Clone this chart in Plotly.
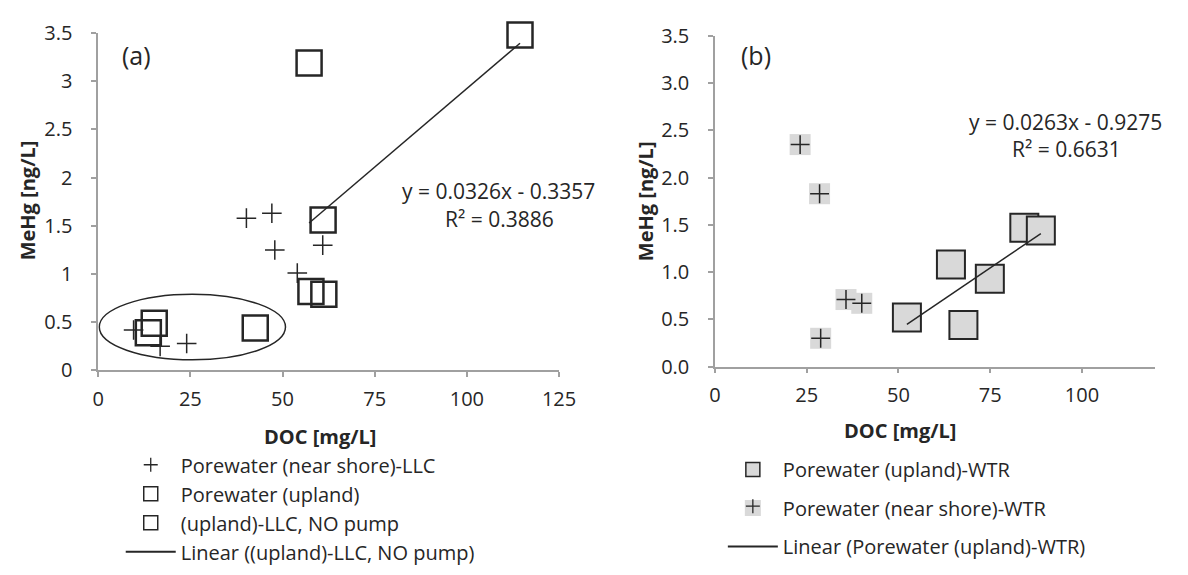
import plotly.graph_objects as go

# ---------------- Panel (a) data ----------------
a_nearshore_doc = [40.2, 47.1, 47.9, 54.0, 60.9, 9.6, 16.8, 24.0]
a_nearshore_mehg = [1.58, 1.63, 1.25, 1.01, 1.30, 0.42, 0.25, 0.28]

a_upland_doc = [15.2, 13.6, 42.6]
a_upland_mehg = [0.49, 0.39, 0.44]

a_nopump_doc = [57.2, 61.0, 114.4, 57.7, 61.2]
a_nopump_mehg = [3.19, 1.56, 3.48, 0.82, 0.79]

a_slope, a_intercept = 0.0326, -0.3357
a_r2 = 0.3886

# ---------------- Panel (b) data ----------------
b_upland_doc = [52.3, 64.3, 74.9, 67.7, 84.3, 88.8]
b_upland_mehg = [0.52, 1.08, 0.93, 0.44, 1.47, 1.44]

b_nearshore_doc = [23.2, 28.5, 35.7, 40.0, 28.8]
b_nearshore_mehg = [2.35, 1.83, 0.71, 0.67, 0.30]

b_slope, b_intercept = 0.0263, -0.9275
b_r2 = 0.6631

a_xticks = [0, 25, 50, 75, 100, 125]
b_xticks = [0, 25, 50, 75, 100]
y_ticks = [0, 0.5, 1, 1.5, 2, 2.5, 3, 3.5]

INK = "#262626"
AXIS = "#a0a0a0"
FILL = "#d9d9d9"
CLEAR = "rgba(0,0,0,0)"
FONT = "Open Sans"

W, H = 1188, 575


def px_x(p):
    return p / W


def px_y(p):
    return 1 - p / H


def trend(xs, m, c):
    lo, hi = min(xs), max(xs)
    return [lo, hi], [m * lo + c, m * hi + c]


def key(name, legend, marker=None, line=None, group=None):
    """Legend-only entry (no data) so the key can be drawn at its own size."""
    kw = dict(x=[None], y=[None], name=name, legend=legend, showlegend=True,
              hoverinfo="skip")
    if group:
        kw["legendgroup"] = group
    if marker is not None:
        kw.update(mode="markers", marker=marker)
    else:
        kw.update(mode="lines", line=line)
    return go.Scatter(**kw)


fig = go.Figure()

# --- panel (a) marks ---
fig.add_trace(go.Scatter(
    x=a_nearshore_doc, y=a_nearshore_mehg, mode="markers", showlegend=False,
    xaxis="x", yaxis="y",
    marker=dict(symbol="cross-thin", size=14, line=dict(color=INK, width=1.5)),
    cliponaxis=False))
fig.add_trace(go.Scatter(
    x=a_upland_doc, y=a_upland_mehg, mode="markers", showlegend=False,
    xaxis="x", yaxis="y",
    marker=dict(symbol="square", size=25, color=CLEAR,
                line=dict(color=INK, width=2.5)),
    cliponaxis=False))
fig.add_trace(go.Scatter(
    x=a_nopump_doc, y=a_nopump_mehg, mode="markers", showlegend=False,
    xaxis="x", yaxis="y",
    marker=dict(symbol="square", size=25, color=CLEAR,
                line=dict(color=INK, width=2.5)),
    cliponaxis=False))
tx, ty = trend(a_nopump_doc, a_slope, a_intercept)
fig.add_trace(go.Scatter(
    x=tx, y=ty, mode="lines", showlegend=False, xaxis="x", yaxis="y",
    line=dict(color=INK, width=1.5), cliponaxis=False))

# --- panel (b) marks ---
fig.add_trace(go.Scatter(
    x=b_nearshore_doc, y=b_nearshore_mehg, mode="markers", showlegend=False,
    xaxis="x2", yaxis="y2",
    marker=dict(symbol="square", size=21, color=FILL, line=dict(width=0)),
    cliponaxis=False))
fig.add_trace(go.Scatter(
    x=b_nearshore_doc, y=b_nearshore_mehg, mode="markers", showlegend=False,
    xaxis="x2", yaxis="y2",
    marker=dict(symbol="cross-thin", size=13.5, line=dict(color=INK, width=1.5)),
    cliponaxis=False))
fig.add_trace(go.Scatter(
    x=b_upland_doc, y=b_upland_mehg, mode="markers", showlegend=False,
    xaxis="x2", yaxis="y2",
    marker=dict(symbol="square", size=28, color=FILL,
                line=dict(color=INK, width=2)),
    cliponaxis=False))
tx, ty = trend(b_upland_doc, b_slope, b_intercept)
fig.add_trace(go.Scatter(
    x=tx, y=ty, mode="lines", showlegend=False, xaxis="x2", yaxis="y2",
    line=dict(color=INK, width=1.5), cliponaxis=False))

# --- legend keys ---
fig.add_trace(key("Porewater (near shore)-LLC", "legend",
                  marker=dict(symbol="cross-thin", size=10,
                              line=dict(color=INK, width=1.3))))
fig.add_trace(key("Porewater (upland)", "legend",
                  marker=dict(symbol="square", size=14, color=CLEAR,
                              line=dict(color=INK, width=1.5))))
fig.add_trace(key("(upland)-LLC, NO pump", "legend",
                  marker=dict(symbol="square", size=14, color=CLEAR,
                              line=dict(color=INK, width=1.5))))
fig.add_trace(key("Linear ((upland)-LLC, NO pump)", "legend",
                  line=dict(color=INK, width=1.8)))

fig.add_trace(key("Porewater (upland)-WTR", "legend2", group="g1",
                  marker=dict(symbol="square", size=14, color=FILL,
                              line=dict(color=INK, width=1.5))))
fig.add_trace(key("Porewater (near shore)-WTR", "legend2", group="g2",
                  marker=dict(symbol="square", size=16, color=FILL,
                              line=dict(width=0))))
fig.add_trace(key("Linear (Porewater (upland)-WTR)", "legend2", group="g3",
                  line=dict(color=INK, width=1.8)))
fig.add_trace(key(" ", "legend3",
                  marker=dict(symbol="cross-thin", size=10,
                              line=dict(color=INK, width=1.3))))

axis_common = dict(
    showline=True, linecolor=AXIS, linewidth=1.5, ticks="outside",
    ticklen=5, tickcolor=AXIS, tickwidth=1.5, showgrid=False, zeroline=False,
    tickfont=dict(family=FONT, size=20, color=INK), fixedrange=True,
)

legend_common = dict(xanchor="left", yanchor="top", itemwidth=50,
                     itemsizing="trace", bgcolor=CLEAR, itemclick=False,
                     itemdoubleclick=False)
legend_font = dict(family=FONT, size=20, color=INK)

fig.update_layout(
    width=W, height=H,
    margin=dict(l=0, r=0, t=0, b=0),
    paper_bgcolor="white", plot_bgcolor="white",
    font=dict(family=FONT, color=INK),
    xaxis=dict(domain=[px_x(94), px_x(564)], range=[0, 125], tickvals=a_xticks,
               anchor="y", ticklabelstandoff=5, **axis_common),
    yaxis=dict(domain=[px_y(374), px_y(20)], range=[0, 3.5], tickvals=y_ticks,
               anchor="x", ticklabelstandoff=15, **axis_common),
    xaxis2=dict(domain=[px_x(723), px_x(1172)], range=[0, 120], tickvals=b_xticks,
                anchor="y2", ticklabelstandoff=5, **axis_common),
    yaxis2=dict(domain=[px_y(370), px_y(23)], range=[0, 3.5], tickvals=y_ticks,
                tickformat=".1f", anchor="x2", ticklabelstandoff=15, **axis_common),
    legend=dict(x=px_x(117), y=px_y(452.5), tracegroupgap=0,
                font=legend_font, **legend_common),
    legend2=dict(x=px_x(731), y=px_y(457.5), traceorder="grouped",
                 tracegroupgap=9.5, font=legend_font, **legend_common),
    legend3=dict(x=px_x(731), y=px_y(496), font=legend_font, **legend_common),
    showlegend=True,
)

# ellipse grouping the low-DOC samples in panel (a)
fig.add_shape(type="circle", xref="x", yref="y", x0=0.3, x1=50.8, y0=0.11, y1=0.79,
              line=dict(color=INK, width=1.5), fillcolor=CLEAR)

ann = [
    dict(text="(a)", x=px_x(116), y=px_y(43), xanchor="left", yanchor="middle",
         size=25),
    dict(text="(b)", x=px_x(747), y=px_y(43), xanchor="left", yanchor="middle",
         size=25),
    dict(text=f"y = {a_slope}x - {abs(a_intercept)}", x=px_x(502), y=px_y(186),
         xanchor="center", yanchor="middle", size=21),
    dict(text=f"R² = {a_r2}", x=px_x(503), y=px_y(215),
         xanchor="center", yanchor="middle", size=21),
    dict(text=f"y = {b_slope}x - {abs(b_intercept)}", x=px_x(1080), y=px_y(113),
         xanchor="center", yanchor="middle", size=21),
    dict(text=f"R² = {b_r2}", x=px_x(1081), y=px_y(142),
         xanchor="center", yanchor="middle", size=21),
    dict(text="<b>DOC [mg/L]</b>", x=px_x(320), y=px_y(443),
         xanchor="center", yanchor="middle", size=20),
    dict(text="<b>DOC [mg/L]</b>", x=px_x(912), y=px_y(437),
         xanchor="center", yanchor="middle", size=20),
    dict(text="<b>MeHg [ng/L]</b>", x=px_x(22), y=px_y(196), textangle=-90,
         xanchor="center", yanchor="middle", size=20),
    dict(text="<b>MeHg [ng/L]</b>", x=px_x(652), y=px_y(196), textangle=-90,
         xanchor="center", yanchor="middle", size=20),
]
for a in ann:
    size = a.pop("size")
    a.update(xref="paper", yref="paper", showarrow=False,
             font=dict(family=FONT, color=INK, size=size))
fig.update_layout(annotations=ann)

fig.write_html("out.html")
